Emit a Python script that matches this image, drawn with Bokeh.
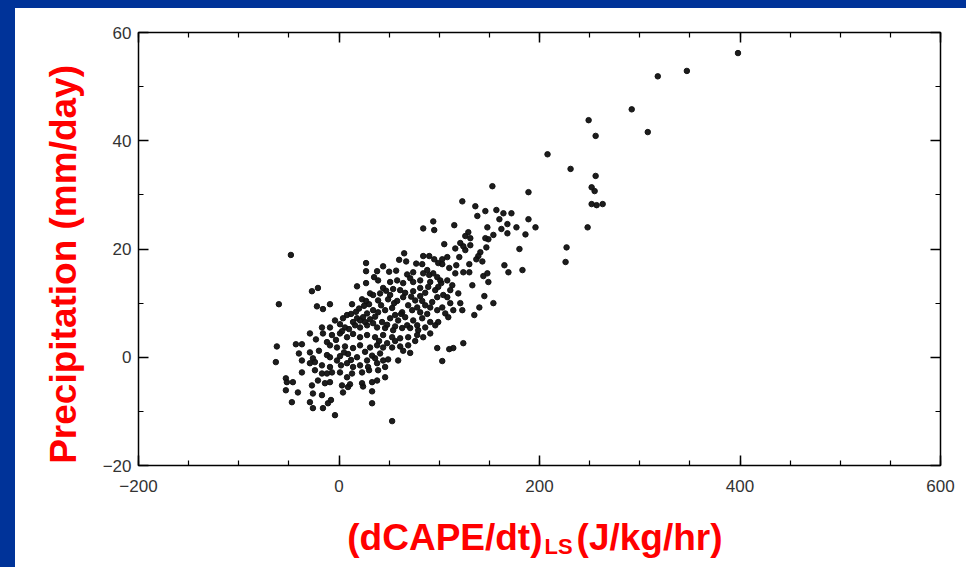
import math
from bokeh.plotting import figure
from bokeh.models import LinearAxis, Range1d, FixedTicker, ColumnDataSource
from bokeh.core.properties import value
from bokeh.layouts import column
from bokeh.embed import file_html
from bokeh.resources import INLINE

# (dCAPE/dt)_LS in J/kg/hr and precipitation in mm/day
points = [
    (398,56.2),(347,52.9),(318,51.9),(292,45.8),(249,43.8),(308,41.6),(256,40.9),(208,37.5),(231,34.8),
    (256,33.5),(252,31.4),(255,30.7),(252,28.3),(257,28.1),(263,28.3),(248,24.0),(227,20.3),(226,17.6),
    (153,31.6),(189,30.5),(146,27.0),(157,27.2),(164,26.6),(172,26.6),(160,25.5),(168,24.6),(148,24.0),
    (162,23.7),(168,22.9),(177,24.0),(189,25.5),(196,24.0),(186,22.7),(154,22.6),(149,21.8),(147,20.3),
    (141,19.4),(143,17.7),(180,20.0),(165,17.0),(169,15.7),(183,16.1),(144,15.0),(148,15.5),(145,11.3),
    (133,13.3),(154,10.0),(140,9.2),(135,7.8),
    (123,28.8),(136,27.9),(138,26.1),(94,25.1),(84,23.8),(95,23.5),(115,24.4),(129,23.1),(126,22.4),
    (131,22.0),(146,22.0),(105,20.9),(121,21.1),(124,20.5),(131,20.7),(116,20.1),(126,19.8),(139,18.7),
    (137,18.1),(65,19.2),(67,17.7),(84,18.7),(90,18.7),(95,18.1),(103,18.1),(108,18.5),(99,17.4),
    (103,17.2),(83,17.2),(44,16.8),(74,15.7),(68,15.3),(88,16.1),(84,15.5),(90,15.2),(94,15.5),(98,14.8),
    (101,14.2),(116,15.5),(124,15.7),(130,15.7),(38,15.9),(35,14.8),(39,14.2),(51,13.9),(58,14.2),
    (64,13.7),(71,14.6),(74,13.9),(81,14.2),(91,13.9),(108,14.2),(149,13.9),
    (44,12.8),(54,12.6),(61,12.4),(74,12.2),(81,12.8),(89,13.0),(99,13.0),(111,12.4),(119,11.8),
    (41,11.8),(51,11.5),(64,11.1),(81,11.3),(98,11.1),(108,11.1),
    (-48,18.9),(27,17.4),(27,15.9),(27,13.7),(18,13.1),(-21,12.8),(-27,12.2),(-60,9.8),(-22,9.4),
    (-16,8.9),(-9,9.8),(13,9.8),(23,10.7),(27,10.4),(31,11.8),(34,11.5),(39,10.5),(34,8.7),(39,8.3),
    (28,8.1),(24,7.4),(18,7.2),(21,6.8),(8,7.8),(4,7.2),(-4,6.8),(1,6.1),(6,5.5),(-9,5.5),(-17,5.5),
    (16,5.9),(21,5.5),(28,5.9),(34,6.3),(38,5.5),
    (49,10.7),(58,10.4),(69,9.6),(76,10.5),(83,10.4),(46,8.7),(53,9.1),(63,8.3),(73,8.7),(81,8.3),
    (43,6.5),(51,7.2),(59,6.8),(66,7.4),(74,6.8),(83,7.2),(46,5.4),(54,5.0),(63,5.4),(71,5.4),(79,5.0),
    (44,4.1),(53,3.7),(61,3.5),(69,3.7),(78,4.1),(84,3.7),
    (44,1.8),(53,1.8),(61,2.0),(69,2.2),(41,0.7),(44,-0.6),(49,-0.4),(59,-0.6),(46,-1.8),(46,-3.7),
    (91,9.2),(98,8.7),(103,9.2),(111,10.0),(114,8.7),(121,10.0),(123,8.7),(106,8.1),(109,7.4),(91,6.5),
    (96,5.9),(99,6.5),(91,4.4),(78,5.9),(98,1.7),(110,1.5),(114,1.7),(124,2.6),(103,-0.7),(38,-4.3),
    (33,-6.3),(53,-11.8),(33,-8.5),(39,-2.4),
    (-29,4.4),(-16,4.4),(-7,4.1),(1,4.4),(8,3.7),(14,4.3),(21,3.7),(28,4.1),(36,3.7),(-62,2.0),
    (-43,2.4),(-37,2.4),(-23,3.3),(-9,2.2),(-2,1.8),(6,2.0),(14,1.7),(21,2.2),(31,1.8),(38,2.2),
    (-40,0.7),(-29,0.9),(-12,0.4),(-9,0.0),(-2,-0.6),(1,0.2),(9,0.6),(18,0.0),(28,-0.6),(36,-0.2),
    (-63,-0.9),(-37,-0.6),(-29,-1.1),(-24,-0.9),(-17,-1.5),(-9,-1.8),(8,-1.1),(14,-1.8),(21,-1.5),
    (29,-1.8),(38,-1.1),(-24,-2.4),(-17,-3.0),(-12,-3.0),(-7,-2.8),(-37,-2.8),(1,-2.8),(8,-3.7),
    (13,-3.0),(23,-2.8),(30,-2.4),(-53,-3.9),(-52,-4.6),(-46,-4.6),(-21,-4.3),(-14,-4.8),(-9,-4.6),
    (-27,-5.2),(3,-5.2),(9,-5.5),(11,-5.0),(23,-4.8),(24,-5.4),(33,-4.6),(-53,-6.1),(-41,-6.5),
    (-26,-6.7),(-17,-7.0),(4,-6.5),(-47,-8.3),(-29,-8.3),(-8,-7.9),(-11,-8.5),(-26,-9.4),(-16,-9.4),
    (-4,-10.7),
    # denser core, read from overlapping blobs
    (20,9.0),(25,9.5),(30,9.8),(17,8.4),(12,8.0),(31,7.0),(36,7.5),(26,6.5),(14,6.5),(10,5.2),
    (3,4.8),(-3,3.2),(-12,2.8),(-20,1.2),(-26,-0.2),(2,-1.5),(5,0.9),(12,-0.5),(26,1.0),(33,0.3),
    (40,3.0),(48,2.6),(56,3.0),(64,1.2),(71,0.8),(76,3.0),(86,5.5),(88,8.0),(86,11.9),(93,10.2),
    (104,11.5),(113,13.3),(117,17.0),(110,16.5),(120,18.5),(130,17.2),(57,16.0),(60,18.0),(50,15.8),
    (77,17.3),(62,8.0),(56,7.8),(48,6.0),(68,5.9),(56,5.7),(66,11.9),(72,11.2),(96,12.4),(102,13.7),
    (78,9.2),(86,9.6),(42,9.6),(47,12.3),(55,10.0),
]
dcape = [p_[0] for p_ in points]
precip = [p_[1] for p_ in points]

x_ticks = [-200, 0, 200, 400, 600]
x_minor = list(range(-200, 601, 50))
y_ticks = [-20, 0, 20, 40, 60]
y_minor = list(range(-20, 61, 10))

x_title_main = "(dCAPE/dt)"
x_title_sub = "LS"
x_title_unit = "(J/kg/hr)"
y_title = "Precipitation (mm/day)"

BLUE = "#003399"
RED = "#ff0000"
FONT = "Liberation Sans"

p = figure(width=951, height=502, x_range=Range1d(-200, 600), y_range=Range1d(-20, 60),
           output_backend="svg", toolbar_location=None,
           min_border_left=123, min_border_right=26, min_border_top=24, min_border_bottom=45)
p.background_fill_color = "white"
p.border_fill_color = "white"
p.outline_line_color = "black"
p.outline_line_width = 1.5
p.xgrid.visible = False
p.ygrid.visible = False

p.add_layout(LinearAxis(), "above")
p.add_layout(LinearAxis(), "right")

for ax in p.xaxis:
    ax.ticker = FixedTicker(ticks=x_ticks, minor_ticks=x_minor)
for ax in p.yaxis:
    ax.ticker = FixedTicker(ticks=y_ticks, minor_ticks=y_minor)

for ax in list(p.xaxis) + list(p.yaxis):
    ax.major_tick_in = 10
    ax.major_tick_out = 0
    ax.minor_tick_in = 5
    ax.minor_tick_out = 0
    ax.axis_line_color = None
    ax.major_tick_line_color = "black"
    ax.major_tick_line_width = 1.5
    ax.minor_tick_line_color = "black"
    ax.minor_tick_line_width = 1.2
    ax.major_label_text_font = FONT
    ax.major_label_text_font_size = "17px"
    ax.major_label_text_color = "#333333"

# top and right axes carry ticks only
for ax, ticks in ((p.above[0], x_ticks), (p.right[0], y_ticks)):
    ax.major_label_overrides = {tk: "" for tk in ticks}
    ax.major_label_text_color = None
    ax.major_label_standoff = 0

p.below[0].major_label_standoff = 14
p.left[0].major_label_standoff = 7

yax = p.left[0]
yax.axis_label = y_title + "\u00a0\u00a0\u00a0"
yax.axis_label_text_font = FONT
yax.axis_label_text_font_size = "37px"
yax.axis_label_text_font_style = "bold"
yax.axis_label_text_color = RED
yax.axis_label_standoff = 16

src = ColumnDataSource(data=dict(x=dcape, y=precip))
p.scatter("x", "y", source=src, size=5.5, color="#111111", alpha=0.95)

# strip under the plot holding the x title with its subscript
t = figure(width=951, height=57, x_range=p.x_range, y_range=Range1d(0, 1),
           output_backend="svg", toolbar_location=None,
           min_border_left=123, min_border_right=26, min_border_top=0, min_border_bottom=0)
t.axis.visible = False
t.grid.visible = False
t.outline_line_color = None
t.background_fill_color = "white"
t.border_fill_color = "white"
t.text(x=[203], y=[0.52], text=[x_title_main], text_align="right", text_baseline="middle",
       text_font=value(FONT), text_font_size="37px", text_font_style="bold", text_color=RED)
t.text(x=[205], y=[0.36], text=[x_title_sub], text_align="left", text_baseline="middle",
       text_font=value(FONT), text_font_size="22px", text_font_style="bold", text_color=RED)
t.text(x=[237], y=[0.52], text=[x_title_unit], text_align="left", text_baseline="middle",
       text_font=value(FONT), text_font_size="37px", text_font_style="bold", text_color=RED)

inner = column(p, t, spacing=0, margin=(8, 0, 0, 15), styles={"background-color": "white"})
layout = column(inner, spacing=0, styles={"background-color": BLUE})

open("out.html", "w").write(file_html(layout, INLINE))
